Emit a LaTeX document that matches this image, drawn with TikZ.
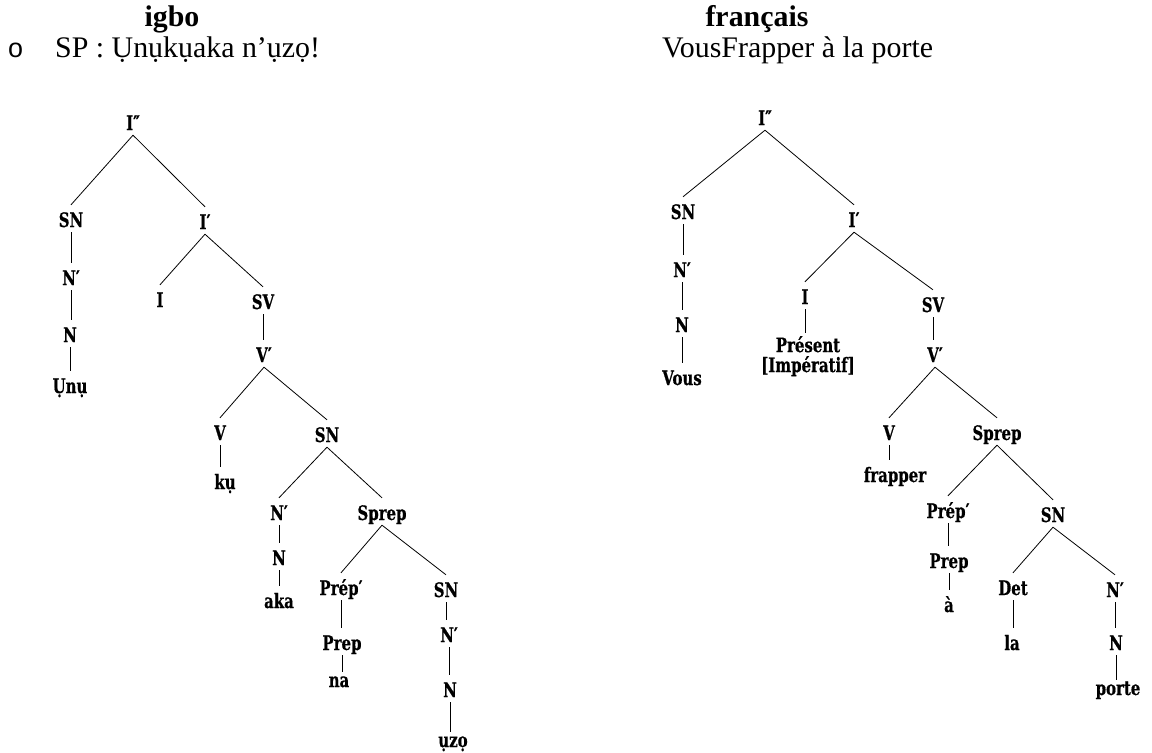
\documentclass[tikz,border=0pt]{standalone}
\usepackage{fontspec}
\setmainfont{Liberation Serif}
\newfontfamily\bulletfont{Liberation Sans}
\newfontfamily\treefont[FakeStretch=0.75,FakeBold=0.6]{DejaVu Serif}
\begin{document}
\begin{tikzpicture}[x=1bp,y=-1bp,
  cat/.style={font=\treefont\bfseries\fontsize{20}{21}\selectfont,anchor=base,
    text height=17bp,text depth=0bp,inner xsep=1bp,inner ysep=5bp},
  low/.style={cat,text height=10bp},
  multi/.style={font=\treefont\bfseries\fontsize{20}{20}\selectfont,
    align=center,inner xsep=0bp,inner ysep=3bp,anchor=north},
  head/.style={font=\fontsize{30}{32}\selectfont,inner sep=0bp,anchor=base},
  branch/.style={line width=0.8bp,black}]
\useasboundingbox (0,0) rectangle (1152,753);

% headings and example sentences
\node[head,font=\bfseries\fontsize{30}{32}\selectfont] (hig) at (172,27) {igbo};
\node[head,font=\bfseries\fontsize{30}{32}\selectfont] (hfr) at (757,27) {français};
\node[head,anchor=base west,font=\bulletfont\fontsize{27}{28}\selectfont] (bul) at (8,58) {o};
\node[head,anchor=base west] (sig) at (55,58) {SP : Ụnụkụaka n’ụzọ!};
\node[head,anchor=base west] (sfr) at (662,58) {VousFrapper à la porte};

% Igbo tree
\node[cat] (a0) at (133,130) {I″};
\node[cat] (a1) at (71,227) {SN};
\node[cat] (a2) at (205,229) {I′};
\node[cat] (a3) at (71,285) {N′};
\node[cat] (a4) at (70,342) {N};
\node[cat] (a5) at (70,393) {Ụnụ};
\node[cat] (a6) at (160,307) {I};
\node[cat] (a7) at (263,309) {SV};
\node[cat] (a8) at (264,362) {V′};
\node[cat] (a9) at (220,440) {V};
\node[cat] (a10) at (225,489) {kụ};
\node[cat] (a11) at (327,442) {SN};
\node[cat] (a12) at (279,520) {N′};
\node[cat] (a13) at (382,520) {Sprep};
\node[cat] (a14) at (279,565) {N};
\node[cat] (a15) at (279,608) {aka};
\node[cat] (a16) at (341,595) {Prép′};
\node[cat] (a17) at (446,597) {SN};
\node[cat] (a18) at (342,650) {Prep};
\node[low] (a19) at (339,687) {na};
\node[cat] (a20) at (449,642) {N′};
\node[cat] (a21) at (450,697) {N};
\node[low] (a22) at (453,747) {ụzọ};

\draw[branch] (a0.south) -- (a1.north);
\draw[branch] (a0.south) -- (a2.north);
\draw[branch] (a1.south) -- (a1.south |- a3.north);
\draw[branch] (a3.south) -- (a3.south |- a4.north);
\draw[branch] (a4.south) -- (a4.south |- a5.north);
\draw[branch] (a2.south) -- (a6.north);
\draw[branch] (a2.south) -- (a7.north);
\draw[branch] (a7.south) -- (a7.south |- a8.north);
\draw[branch] (a8.south) -- (a9.north);
\draw[branch] (a8.south) -- (a11.north);
\draw[branch] (a9.south) -- (a9.south |- a10.north);
\draw[branch] (a11.south) -- (a12.north);
\draw[branch] (a11.south) -- (a13.north);
\draw[branch] (a12.south) -- (a12.south |- a14.north);
\draw[branch] (a14.south) -- (a14.south |- a15.north);
\draw[branch] (a13.south) -- (a16.north);
\draw[branch] (a13.south) -- (a17.north);
\draw[branch] (a16.south) -- (a16.south |- a18.north);
\draw[branch] (a18.south) -- (a18.south |- a19.north);
\draw[branch] (a17.south) -- (a17.south |- a20.north);
\draw[branch] (a20.south) -- (a20.south |- a21.north);
\draw[branch] (a21.south) -- (a21.south |- a22.north);

% French tree
\node[cat] (b0) at (765,125) {I″};
\node[cat] (b1) at (683,219) {SN};
\node[cat] (b2) at (854,227) {I′};
\node[cat] (b3) at (682,277) {N′};
\node[cat] (b4) at (682,332) {N};
\node[cat] (b5) at (682,385) {Vous};
\node[cat] (b6) at (805,304) {I};
\node[multi] (b7) at (808,333) {Présent\\{}[Impératif]};
\node[cat] (b8) at (933,312) {SV};
\node[cat] (b9) at (935,362) {V′};
\node[cat] (b10) at (889,440) {V};
\node[cat] (b11) at (895,482) {frapper};
\node[cat] (b12) at (997,440) {Sprep};
\node[cat] (b13) at (948,518) {Prép′};
\node[cat] (b14) at (1053,522) {SN};
\node[cat] (b15) at (949,568) {Prep};
\node[cat] (b16) at (949,612) {à};
\node[cat] (b17) at (1013,595) {Det};
\node[cat] (b18) at (1115,597) {N′};
\node[cat] (b19) at (1012,650) {la};
\node[cat] (b20) at (1116,650) {N};
\node[low] (b21) at (1118,695) {porte};

\draw[branch] (b0.south) -- (b1.north);
\draw[branch] (b0.south) -- (b2.north);
\draw[branch] (b1.south) -- (b1.south |- b3.north);
\draw[branch] (b3.south) -- (b3.south |- b4.north);
\draw[branch] (b4.south) -- (b4.south |- b5.north);
\draw[branch] (b2.south) -- (b6.north);
\draw[branch] (b2.south) -- (b8.north);
\draw[branch] (b6.south) -- (b6.south |- b7.north);
\draw[branch] (b8.south) -- (b8.south |- b9.north);
\draw[branch] (b9.south) -- (b10.north);
\draw[branch] (b9.south) -- (b12.north);
\draw[branch] (b10.south) -- (b10.south |- b11.north);
\draw[branch] (b12.south) -- (b13.north);
\draw[branch] (b12.south) -- (b14.north);
\draw[branch] (b13.south) -- (b13.south |- b15.north);
\draw[branch] (b15.south) -- (b15.south |- b16.north);
\draw[branch] (b14.south) -- (b17.north);
\draw[branch] (b14.south) -- (b18.north);
\draw[branch] (b17.south) -- (b17.south |- b19.north);
\draw[branch] (b18.south) -- (b18.south |- b20.north);
\draw[branch] (b20.south) -- (b20.south |- b21.north);
\end{tikzpicture}
\end{document}
